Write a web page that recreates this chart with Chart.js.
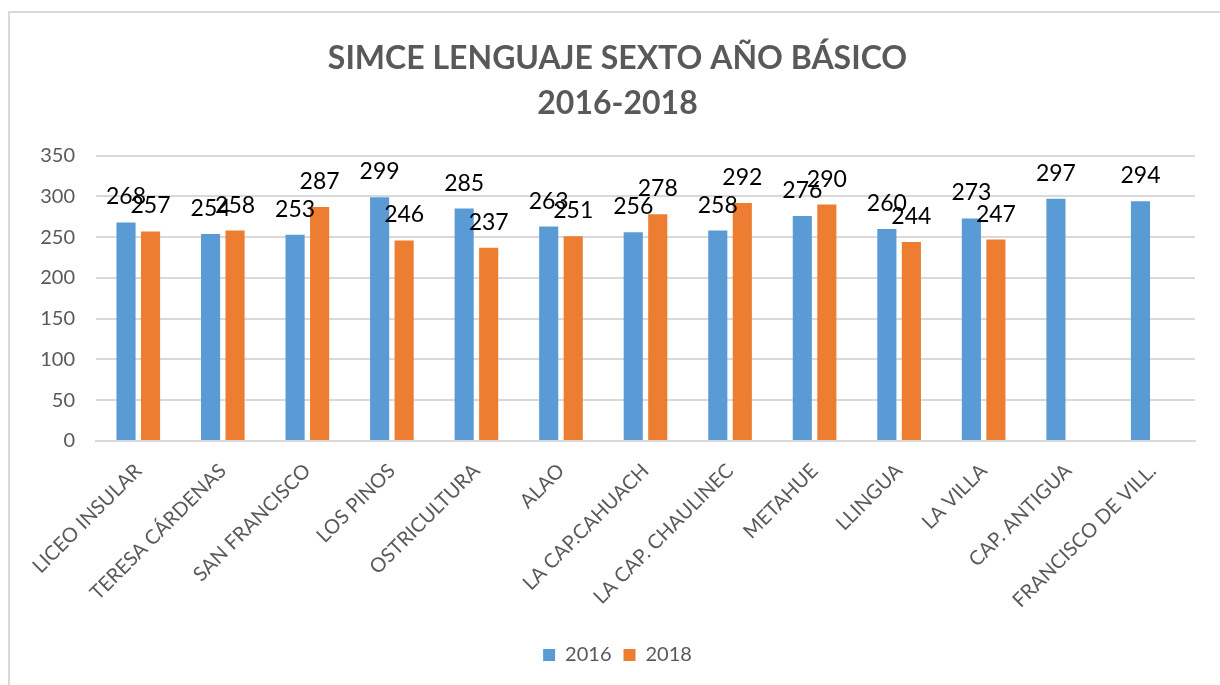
<!DOCTYPE html>
<html>
<head>
<meta charset="utf-8">
<title>SIMCE Lenguaje Sexto Año Básico</title>
<script src="https://cdn.jsdelivr.net/npm/chart.js@4"></script>
<style>
  html, body { margin: 0; padding: 0; background: #fff; }
  #wrap { width: 1220px; height: 685px; position: relative; }
</style>
</head>
<body>
<div id="wrap"><canvas id="simceChart" width="1220" height="685"></canvas></div>
<script>
// Chart data
const schools = ['LICEO INSULAR', 'TERESA CÁRDENAS', 'SAN FRANCISCO', 'LOS PINOS', 'OSTRICULTURA', 'ALAO',
  'LA CAP.CAHUACH', 'LA CAP. CHAULINEC', 'METAHUE', 'LLINGUA', 'LA VILLA', 'CAP. ANTIGUA', 'FRANCISCO DE VILL.'];
const scores2016 = [268, 254, 253, 299, 285, 263, 256, 258, 276, 260, 273, 297, 294];
const scores2018 = [257, 258, 287, 246, 237, 251, 278, 292, 290, 244, 247, null, null];
const yTicks = [0, 50, 100, 150, 200, 250, 300, 350];

const GRAY = '#595959';
const GRID = '#d9d9d9';
const FONT = 'Lato, "Open Sans", sans-serif';

// light frame round the chart (top and left edges only show)
const framePlugin = {
    id: 'frame',
    beforeDraw(chart) {
        const ctx = chart.ctx;
        ctx.save();
        ctx.fillStyle = '#fff';
        ctx.fillRect(0, 0, chart.width, chart.height);
        ctx.strokeStyle = GRID;
        ctx.lineWidth = 2;
        ctx.strokeRect(9, 12, chart.width + 20, chart.height + 20);
        ctx.restore();
    }
};

// value labels above each bar
const valueLabels = {
    id: 'valueLabels',
    afterDatasetsDraw(chart) {
        const ctx = chart.ctx;
        ctx.save();
        ctx.font = '23px ' + FONT;
        ctx.fillStyle = '#000';
        ctx.textAlign = 'center';
        ctx.textBaseline = 'alphabetic';
        chart.data.datasets.forEach((ds, i) => {
            const meta = chart.getDatasetMeta(i);
            meta.data.forEach((bar, j) => {
                const v = ds.data[j];
                if (v === null || v === undefined) return;
                ctx.fillText(String(v), bar.x, bar.y - 18);
            });
        });
        ctx.restore();
    }
};

const ctx = document.getElementById('simceChart');
new Chart(ctx, {
    type: 'bar',
    data: {
        labels: schools,
        datasets: [
            {
                label: '2016',
                data: scores2016,
                backgroundColor: '#5B9BD5',
                categoryPercentage: 0.58,
                barPercentage: 0.78
            },
            {
                label: '2018',
                data: scores2018,
                backgroundColor: '#ED7D31',
                categoryPercentage: 0.58,
                barPercentage: 0.78
            }
        ]
    },
    options: {
        responsive: false,
        animation: false,
        layout: { padding: { left: 40, right: 25, top: 0, bottom: 10 } },
        plugins: {
            title: {
                display: true,
                text: ['SIMCE LENGUAJE SEXTO AÑO BÁSICO', '2016-2018'],
                color: GRAY,
                font: { family: FONT, size: 32, weight: 'bold', lineHeight: 1.4 },
                padding: { top: 36, bottom: 30 }
            },
            legend: {
                position: 'bottom',
                labels: {
                    color: GRAY,
                    boxWidth: 12,
                    boxHeight: 12,
                    padding: 12,
                    font: { family: FONT, size: 20 }
                }
            },
            tooltip: { enabled: false }
        },
        scales: {
            x: {
                grid: { display: false },
                border: { display: true, color: GRID, width: 2 },
                ticks: {
                    color: GRAY,
                    minRotation: 45,
                    maxRotation: 45,
                    padding: 10,
                    font: { family: FONT, size: 20 }
                },
                afterFit(scale) { scale.height = 192; }
            },
            y: {
                min: 0,
                max: 350,
                afterBuildTicks(scale) { scale.ticks = yTicks.map(v => ({ value: v })); },
                grid: { color: GRID, lineWidth: 2, drawTicks: false },
                border: { display: false },
                ticks: {
                    color: GRAY,
                    padding: 21,
                    font: { family: FONT, size: 20 }
                },
                afterFit(scale) { scale.width = 56; }
            }
        }
    },
    plugins: [framePlugin, valueLabels]
});
</script>
</body>
</html>
